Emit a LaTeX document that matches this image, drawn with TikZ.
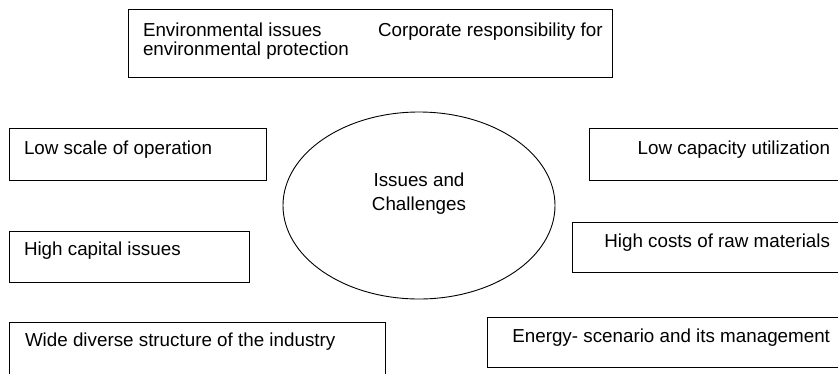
\documentclass[tikz,border=0pt]{standalone}
\usepackage{fontspec}
\setmainfont{Liberation Sans}
\usetikzlibrary{shapes.geometric}
\begin{document}
\begin{tikzpicture}[x=1pt,y=-1pt,
  every node/.style={font=\fontsize{18.8}{19}\selectfont, inner sep=0pt, outer sep=0pt},
  box/.style={draw, line width=1pt, rectangle, anchor=north west},
  txt/.style={anchor=base west},
  rtxt/.style={anchor=base east},
  hubshape/.style={draw, line width=0.9pt, ellipse}]
\useasboundingbox (0,0) rectangle (838,373);
\clip (0,0) rectangle (838,373);

% top box
\node[box, minimum width=484pt, minimum height=68pt] (env) at (128,9) {};
\node[txt] (env1) at (143,36.5) {Environmental issues};
\node[txt] (env2) at (378,36.5) {Corporate responsibility for};
\node[txt] (env3) at (143,55) {environmental protection};

% central ellipse
\node[hubshape, minimum width=272pt, minimum height=187pt] (hub) at (419,205.5) {};
\node[anchor=base] (hub1) at (419,186.7) {Issues and};
\node[anchor=base] (hub2) at (419,210) {Challenges};

% left column
\node[box, minimum width=257pt, minimum height=52pt] (lso) at (9,128) {};
\node[txt] (lsot) at (24,154) {Low scale of operation};
\node[box, minimum width=240pt, minimum height=51pt] (hci) at (9,231) {};
\node[txt] (hcit) at (24,255) {High capital issues};
\node[box, minimum width=376pt, minimum height=52pt] (wds) at (9,322) {};
\node[txt] (wdst) at (25,346) {Wide diverse structure of the industry};

% right column (runs past the right border)
\node[box, minimum width=260pt, minimum height=52pt] (lcu) at (589,128) {};
\node[rtxt] (lcut) at (830,154) {Low capacity utilization};
\node[box, minimum width=277pt, minimum height=50pt] (hcr) at (572,222) {};
\node[rtxt] (hcrt) at (830,247) {High costs of raw materials};
\node[box, minimum width=362pt, minimum height=50pt] (esm) at (487,317) {};
\node[rtxt] (esmt) at (830,342) {Energy- scenario and its management};
\end{tikzpicture}
\end{document}
